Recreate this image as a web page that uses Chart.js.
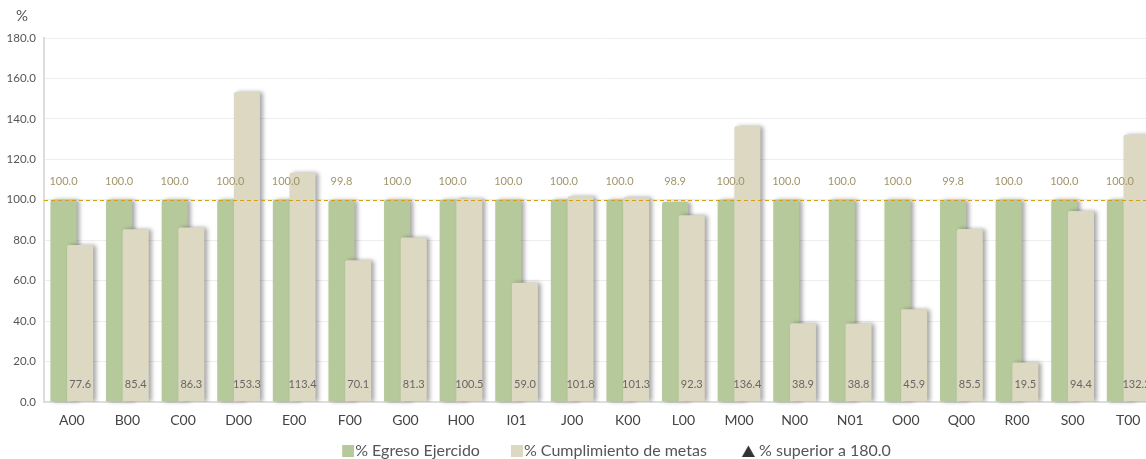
<!DOCTYPE html>
<html>
<head>
<meta charset="utf-8">
<script src="https://cdn.jsdelivr.net/npm/chart.js@4.4.0/dist/chart.umd.min.js"></script>
<style>
  html, body { margin: 0; padding: 0; background: #fff; overflow: hidden; }
  canvas { display: block; }
</style>
</head>
<body>
<canvas id="chart" width="1156" height="459"></canvas>
<script>
const categories = ['A00', 'B00', 'C00', 'D00', 'E00', 'F00', 'G00', 'H00', 'I01', 'J00',
                    'K00', 'L00', 'M00', 'N00', 'N01', 'O00', 'Q00', 'R00', 'S00', 'T00'];
const egreso = [100.0, 100.0, 100.0, 100.0, 100.0, 99.8, 100.0, 100.0, 100.0, 100.0,
                100.0, 98.9, 100.0, 100.0, 100.0, 100.0, 99.8, 100.0, 100.0, 100.0];
const cumplimiento = [77.6, 85.4, 86.3, 153.3, 113.4, 70.1, 81.3, 100.5, 59.0, 101.8,
                      101.3, 92.3, 136.4, 38.9, 38.8, 45.9, 85.5, 19.5, 94.4, 132.2];
const yTicks = [0, 20, 40, 60, 80, 100, 120, 140, 160, 180];
const referenceValue = 100;

const GREEN = '#b5c99a';
const BEIGE = '#ddd8c2';

// legend marker: square sitting right next to the text
function legendSquare(color) {
    const c = document.createElement('canvas');
    c.width = 26;
    c.height = 12;
    const g = c.getContext('2d');
    g.fillStyle = color;
    g.fillRect(14, 0, 12, 12);
    return c;
}
// legend marker: dark triangle, pushed to the right
function legendTriangle(color) {
    const c = document.createElement('canvas');
    c.width = 36;
    c.height = 12;
    const g = c.getContext('2d');
    g.fillStyle = color;
    g.beginPath();
    g.moveTo(29.5, 0.5);
    g.lineTo(36, 12);
    g.lineTo(23, 12);
    g.closePath();
    g.fill();
    return c;
}

function setShadow(ctx) {
    ctx.shadowColor = 'rgba(0,0,0,0.35)';
    ctx.shadowBlur = 4;
    ctx.shadowOffsetX = 3;
    ctx.shadowOffsetY = 0;
}

// draw green bars first, beige bars on top, both with a shadow
const barOrderPlugin = {
    id: 'barOrder',
    beforeDatasetDraw(chart, args) {
        if (args.index === 0) return false;
        if (args.index === 1) {
            const ctx = chart.ctx;
            ctx.save();
            setShadow(ctx);
            chart.getDatasetMeta(0).controller.draw();
            ctx.restore();
            ctx.save();
            setShadow(ctx);
        }
    },
    afterDatasetDraw(chart, args) {
        if (args.index === 1) chart.ctx.restore();
    }
};

// dashed line at 100, value labels, "%" title
const extrasPlugin = {
    id: 'extras',
    afterLayout(chart) {
        // legend sits right of the canvas centre in the original
        chart.legend.left += 35;
        chart.legend.right += 35;
        chart.legend.top -= 13;
        chart.legend.bottom -= 13;
    },
    afterDatasetsDraw(chart) {
        const ctx = chart.ctx;
        const area = chart.chartArea;
        const y = chart.scales.y.getPixelForValue(referenceValue);

        ctx.save();
        ctx.strokeStyle = '#d4a017';
        ctx.lineWidth = 1;
        ctx.setLineDash([4, 3]);
        ctx.beginPath();
        ctx.moveTo(area.left, Math.round(y) + 0.5);
        ctx.lineTo(area.right, Math.round(y) + 0.5);
        ctx.stroke();
        ctx.setLineDash([]);

        ctx.font = '11px Lato';
        ctx.textAlign = 'center';
        ctx.textBaseline = 'middle';

        const greenMeta = chart.getDatasetMeta(0);
        ctx.fillStyle = '#a0956a';
        greenMeta.data.forEach((bar, i) => {
            ctx.fillText(egreso[i].toFixed(1), bar.x, y - 18);
        });

        const beigeMeta = chart.getDatasetMeta(1);
        const base = chart.scales.y.getPixelForValue(0);
        ctx.fillStyle = '#666';
        beigeMeta.data.forEach((bar, i) => {
            ctx.fillText(cumplimiento[i].toFixed(1), bar.x, base - 18);
        });

        ctx.font = '15px Lato';
        ctx.fillStyle = '#555';
        ctx.fillText('%', 22, 16);
        ctx.restore();
    }
};

new Chart(document.getElementById('chart'), {
    type: 'bar',
    data: {
        labels: categories,
        datasets: [{
            label: '% Egreso Ejercido',
            data: egreso,
            backgroundColor: GREEN,
            categoryPercentage: 0.6,
            barPercentage: 1.56,
            borderRadius: { topLeft: 2, topRight: 2 },
            borderSkipped: 'bottom',
            pointStyle: legendSquare(GREEN)
        }, {
            label: '% Cumplimiento de metas',
            data: cumplimiento,
            backgroundColor: BEIGE,
            categoryPercentage: 0.6,
            barPercentage: 1.56,
            borderRadius: { topLeft: 2, topRight: 2 },
            borderSkipped: 'bottom',
            pointStyle: legendSquare(BEIGE)
        }, {
            type: 'line',
            label: '  % superior a 180.0',
            data: [],
            pointStyle: legendTriangle('#333'),
            backgroundColor: '#333',
            borderColor: '#333',
            showLine: false
        }]
    },
    options: {
        responsive: false,
        animation: false,
        layout: { padding: { top: 38, right: 0, bottom: -23, left: 0 } },
        plugins: {
            legend: {
                position: 'bottom',
                labels: {
                    usePointStyle: true,
                    pointStyleWidth: 12,
                    boxHeight: 12,
                    color: '#555',
                    padding: 24,
                    font: { family: 'Lato', size: 16 }
                }
            },
            tooltip: { enabled: false }
        },
        scales: {
            x: {
                afterFit(scale) { scale.height = 30; },
                grid: { display: false, drawTicks: false },
                border: { color: '#ddd', width: 2 },
                ticks: {
                    color: '#444',
                    padding: 10,
                    font: { family: 'Lato', size: 14 }
                }
            },
            y: {
                min: 0,
                max: 180,
                afterFit(scale) { scale.width = 44; },
                afterBuildTicks(scale) { scale.ticks = yTicks.map(v => ({ value: v })); },
                grid: { color: '#eee', drawTicks: false },
                border: { color: '#ddd', width: 2 },
                ticks: {
                    color: '#555',
                    padding: 8,
                    font: { family: 'Lato', size: 11.5 },
                    callback: v => Number(v).toFixed(1)
                }
            }
        }
    },
    plugins: [barOrderPlugin, extrasPlugin]
});
</script>
</body>
</html>
